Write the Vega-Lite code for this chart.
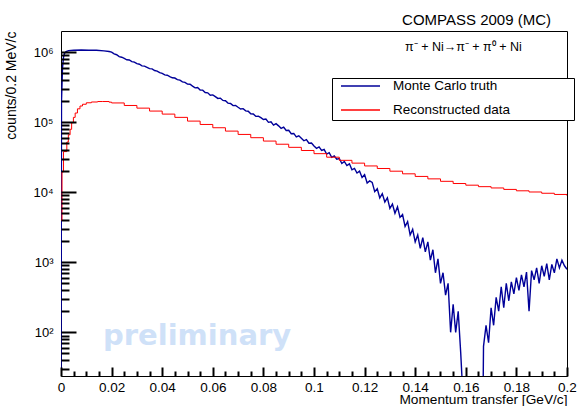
{
  "$schema": "https://vega.github.io/schema/vega-lite/v6.json",
  "width": 506,
  "height": 345,
  "autosize": {"type": "none"},
  "padding": {"left": 61, "top": 31, "right": 10, "bottom": 30},
  "background": "white",
  "title": {"text": "COMPASS 2009 (MC)", "anchor": "end", "frame": "group", "font": "Liberation Sans", "fontSize": 15, "fontWeight": "normal", "color": "black", "baseline": "alphabetic", "offset": 8, "dx": -16, "dy": 17},
  "config": {
    "view": {"stroke": "black", "strokeWidth": 1},
    "font": "Liberation Sans",
    "axis": {"ticks": true, "tickColor": "black", "tickOpacity": 1, "tickWidth": 2}
  },
  "resolve": {"axis": {"x": "independent", "y": "independent"}},
  "datasets": {
    "mc": [
      {"q": 0, "v": 10}, {"q": 0.0002, "v": 200000}, {"q": 0.0006, "v": 600000}, {"q": 0.001, "v": 850000}, {"q": 0.0014, "v": 960000},
      {"q": 0.002, "v": 1020000}, {"q": 0.003, "v": 1050000}, {"q": 0.005, "v": 1060000}, {"q": 0.008, "v": 1070000}, {"q": 0.011, "v": 1060000},
      {"q": 0.014, "v": 1060000}, {"q": 0.017, "v": 1040000}, {"q": 0.019, "v": 1020000},
      {"q": 0.020, "v": 1000000}, {"q": 0.021, "v": 945000}, {"q": 0.022, "v": 917000}, {"q": 0.023, "v": 861000}, {"q": 0.024, "v": 845000},
      {"q": 0.025, "v": 811000}, {"q": 0.026, "v": 777000}, {"q": 0.027, "v": 771000}, {"q": 0.028, "v": 732000}, {"q": 0.029, "v": 720000},
      {"q": 0.030, "v": 683000}, {"q": 0.031, "v": 671000}, {"q": 0.032, "v": 636000}, {"q": 0.033, "v": 631000}, {"q": 0.034, "v": 605000},
      {"q": 0.035, "v": 580000}, {"q": 0.036, "v": 577000}, {"q": 0.037, "v": 546000}, {"q": 0.038, "v": 536000}, {"q": 0.039, "v": 508000},
      {"q": 0.040, "v": 497000}, {"q": 0.041, "v": 472000}, {"q": 0.042, "v": 468000}, {"q": 0.043, "v": 448000}, {"q": 0.044, "v": 430000},
      {"q": 0.045, "v": 426000}, {"q": 0.046, "v": 405000}, {"q": 0.047, "v": 398000}, {"q": 0.048, "v": 376000}, {"q": 0.049, "v": 369000},
      {"q": 0.050, "v": 349000}, {"q": 0.051, "v": 347000}, {"q": 0.052, "v": 327000}, {"q": 0.053, "v": 309000}, {"q": 0.054, "v": 312000},
      {"q": 0.055, "v": 288000}, {"q": 0.056, "v": 286000}, {"q": 0.057, "v": 265000}, {"q": 0.058, "v": 262000}, {"q": 0.059, "v": 242000},
      {"q": 0.060, "v": 245000}, {"q": 0.061, "v": 231000}, {"q": 0.062, "v": 218000}, {"q": 0.063, "v": 220000}, {"q": 0.064, "v": 204000},
      {"q": 0.065, "v": 202000}, {"q": 0.066, "v": 187000}, {"q": 0.067, "v": 185000}, {"q": 0.068, "v": 172000}, {"q": 0.069, "v": 173000},
      {"q": 0.070, "v": 163000}, {"q": 0.071, "v": 154000}, {"q": 0.072, "v": 156000}, {"q": 0.073, "v": 145000}, {"q": 0.074, "v": 143000},
      {"q": 0.075, "v": 132000}, {"q": 0.076, "v": 131000}, {"q": 0.077, "v": 121000}, {"q": 0.078, "v": 122000}, {"q": 0.079, "v": 116000},
      {"q": 0.080, "v": 109000}, {"q": 0.081, "v": 111000}, {"q": 0.082, "v": 99400}, {"q": 0.083, "v": 101000}, {"q": 0.084, "v": 90700},
      {"q": 0.085, "v": 95200}, {"q": 0.086, "v": 88500}, {"q": 0.087, "v": 81700}, {"q": 0.088, "v": 85200}, {"q": 0.089, "v": 76000},
      {"q": 0.090, "v": 76700}, {"q": 0.091, "v": 68300}, {"q": 0.092, "v": 69000}, {"q": 0.093, "v": 61400}, {"q": 0.094, "v": 63900},
      {"q": 0.095, "v": 58900}, {"q": 0.096, "v": 54200}, {"q": 0.097, "v": 56300}, {"q": 0.098, "v": 50100}, {"q": 0.099, "v": 50400},
      {"q": 0.100, "v": 45600}, {"q": 0.101, "v": 42300}, {"q": 0.102, "v": 44300}, {"q": 0.103, "v": 39400}, {"q": 0.104, "v": 40700},
      {"q": 0.105, "v": 35000}, {"q": 0.106, "v": 36600}, {"q": 0.107, "v": 31500}, {"q": 0.108, "v": 32900}, {"q": 0.109, "v": 29600},
      {"q": 0.110, "v": 30300}, {"q": 0.111, "v": 25700}, {"q": 0.112, "v": 27500}, {"q": 0.113, "v": 24000}, {"q": 0.114, "v": 25400},
      {"q": 0.115, "v": 20900}, {"q": 0.116, "v": 21900}, {"q": 0.117, "v": 18800}, {"q": 0.118, "v": 20000}, {"q": 0.119, "v": 16200},
      {"q": 0.120, "v": 17800}, {"q": 0.121, "v": 13500}, {"q": 0.122, "v": 14500}, {"q": 0.123, "v": 13800}, {"q": 0.124, "v": 10200},
      {"q": 0.125, "v": 11200}, {"q": 0.126, "v": 8300}, {"q": 0.127, "v": 9550}, {"q": 0.128, "v": 7240}, {"q": 0.129, "v": 8300},
      {"q": 0.130, "v": 5890}, {"q": 0.131, "v": 6760}, {"q": 0.132, "v": 5010}, {"q": 0.133, "v": 6170}, {"q": 0.134, "v": 4370},
      {"q": 0.135, "v": 4790}, {"q": 0.136, "v": 3240}, {"q": 0.137, "v": 3800}, {"q": 0.138, "v": 2450}, {"q": 0.139, "v": 2950},
      {"q": 0.140, "v": 1950}, {"q": 0.141, "v": 2450}, {"q": 0.142, "v": 1580}, {"q": 0.143, "v": 2240}, {"q": 0.144, "v": 1410},
      {"q": 0.145, "v": 1950}, {"q": 0.146, "v": 1070}, {"q": 0.147, "v": 1510}, {"q": 0.148, "v": 708}, {"q": 0.149, "v": 1120},
      {"q": 0.150, "v": 500}, {"q": 0.151, "v": 708}, {"q": 0.152, "v": 339}, {"q": 0.153, "v": 500}, {"q": 0.154, "v": 100},
      {"q": 0.155, "v": 251}, {"q": 0.156, "v": 100}, {"q": 0.157, "v": 200}, {"q": 0.158, "v": 50}, {"q": 0.159, "v": 10},
      {"q": 0.1668, "v": 10},
      {"q": 0.167, "v": 63}, {"q": 0.168, "v": 126}, {"q": 0.169, "v": 71}, {"q": 0.170, "v": 224}, {"q": 0.171, "v": 126},
      {"q": 0.172, "v": 316}, {"q": 0.173, "v": 200}, {"q": 0.174, "v": 447}, {"q": 0.175, "v": 224}, {"q": 0.176, "v": 501},
      {"q": 0.177, "v": 282}, {"q": 0.178, "v": 525}, {"q": 0.179, "v": 355}, {"q": 0.180, "v": 603}, {"q": 0.181, "v": 398},
      {"q": 0.182, "v": 661}, {"q": 0.183, "v": 447}, {"q": 0.184, "v": 724}, {"q": 0.185, "v": 200}, {"q": 0.186, "v": 759},
      {"q": 0.187, "v": 562}, {"q": 0.188, "v": 832}, {"q": 0.189, "v": 501}, {"q": 0.190, "v": 891}, {"q": 0.191, "v": 631},
      {"q": 0.192, "v": 955}, {"q": 0.193, "v": 562}, {"q": 0.194, "v": 933}, {"q": 0.195, "v": 708}, {"q": 0.196, "v": 1120},
      {"q": 0.197, "v": 832}, {"q": 0.198, "v": 1070}, {"q": 0.199, "v": 891}, {"q": 0.200, "v": 794}
    ],
    "rec": [
      {"q": 0, "v": 4000}, {"q": 0.0004, "v": 19500}, {"q": 0.001, "v": 38000}, {"q": 0.0023, "v": 52000}, {"q": 0.0029, "v": 66000},
      {"q": 0.0036, "v": 79000}, {"q": 0.0042, "v": 98000}, {"q": 0.0049, "v": 117000}, {"q": 0.0056, "v": 135000}, {"q": 0.0065, "v": 155000},
      {"q": 0.0075, "v": 170000}, {"q": 0.0085, "v": 180000}, {"q": 0.010, "v": 189000}, {"q": 0.012, "v": 194000}, {"q": 0.0145, "v": 197000},
      {"q": 0.0165, "v": 197000}, {"q": 0.019, "v": 193000},
      {"q": 0.020, "v": 188000}, {"q": 0.025, "v": 173000}, {"q": 0.030, "v": 158500}, {"q": 0.035, "v": 143900}, {"q": 0.040, "v": 130300},
      {"q": 0.045, "v": 117000}, {"q": 0.050, "v": 103500}, {"q": 0.055, "v": 92700}, {"q": 0.060, "v": 83200}, {"q": 0.065, "v": 74500},
      {"q": 0.070, "v": 66800}, {"q": 0.075, "v": 60000}, {"q": 0.080, "v": 53700}, {"q": 0.085, "v": 48400}, {"q": 0.090, "v": 43700},
      {"q": 0.095, "v": 39400}, {"q": 0.100, "v": 35500}, {"q": 0.105, "v": 31600}, {"q": 0.110, "v": 28500}, {"q": 0.115, "v": 26000},
      {"q": 0.120, "v": 23700}, {"q": 0.125, "v": 21800}, {"q": 0.130, "v": 19950}, {"q": 0.135, "v": 18300}, {"q": 0.140, "v": 16800},
      {"q": 0.145, "v": 15500}, {"q": 0.150, "v": 14300}, {"q": 0.155, "v": 13300}, {"q": 0.160, "v": 12600}, {"q": 0.165, "v": 12000},
      {"q": 0.170, "v": 11500}, {"q": 0.175, "v": 10960}, {"q": 0.180, "v": 10470}, {"q": 0.185, "v": 10070}, {"q": 0.190, "v": 9660},
      {"q": 0.195, "v": 9290}, {"q": 0.200, "v": 8910}
    ],
    "watermark": [{"text": "preliminary", "q": 0.0166, "v": 66}],
    "reaction": [{"text": "π⁻ + Ni→π⁻ + π⁰ + Ni", "q": 0.136, "v": 1200000}]
  },
  "layer": [
    {
      "data": {"name": "watermark"},
      "mark": {"type": "text", "align": "left", "baseline": "alphabetic", "font": "DejaVu Sans", "fontWeight": "bold", "fontSize": 29, "color": "#cfe1f8"},
      "encoding": {
        "x": {"field": "q", "type": "quantitative", "scale": {"domain": [0, 0.2], "nice": false, "zero": false}, "axis": null},
        "y": {"field": "v", "type": "quantitative", "scale": {"type": "log", "domain": [23.8, 2000000], "nice": false}, "axis": null},
        "text": {"field": "text"}
      }
    },
    {
      "data": {"name": "mc"},
      "mark": {"type": "line", "interpolate": "linear", "strokeWidth": 1.4, "clip": true},
      "encoding": {
        "x": {
          "field": "q", "type": "quantitative",
          "scale": {"domain": [0, 0.2], "nice": false, "zero": false},
          "axis": {
            "orient": "bottom",
            "values": [0, 0.02, 0.04, 0.06, 0.08, 0.1, 0.12, 0.14, 0.16, 0.18, 0.2],
            "format": "~g",
            "ticks": true, "offset": -9, "tickSize": 9, "tickColor": "black", "tickWidth": 2, "tickOpacity": 1,
            "domain": false,
            "labelPadding": 4,
            "labelFont": "Liberation Sans", "labelFontSize": 13.5, "labelColor": "black",
            "labelFlush": false, "labelOverlap": false, "labelBound": false,
            "grid": false, "zindex": 1,
            "title": "Momentum transfer [GeV/c]", "titleAnchor": "end", "titleFont": "Liberation Sans", "titleFontSize": 13.7,
            "titleFontWeight": "normal", "titleColor": "black", "titlePadding": -1
          }
        },
        "y": {
          "field": "v", "type": "quantitative",
          "scale": {"type": "log", "domain": [23.8, 2000000], "nice": false},
          "axis": {
            "orient": "left",
            "values": [100, 1000, 10000, 100000, 1000000],
            "labelExpr": "datum.value == 100 ? '10²' : datum.value == 1000 ? '10³' : datum.value == 10000 ? '10⁴' : datum.value == 100000 ? '10⁵' : '10⁶'",
            "ticks": true, "offset": -15, "tickSize": 15, "tickColor": "black", "tickWidth": 2, "tickOpacity": 1,
            "domain": false,
            "labelPadding": 8,
            "labelFont": "Liberation Sans", "labelFontSize": 13, "labelColor": "black",
            "labelFlush": false, "labelOverlap": false, "labelBound": false,
            "grid": false, "zindex": 1,
            "title": "counts/0.2 MeV/c", "titleAnchor": "end", "titleFont": "Liberation Sans", "titleFontSize": 14,
            "titleFontWeight": "normal", "titleColor": "black", "titlePadding": 14
          }
        },
        "color": {
          "datum": "Monte Carlo truth",
          "scale": {"domain": ["Monte Carlo truth", "Reconstructed data"], "range": ["#000099", "#ff0000"]},
          "legend": {
            "title": null, "orient": "none", "legendX": 271, "legendY": 47,
            "fillColor": "white", "strokeColor": "black", "padding": 3,
            "symbolType": "stroke", "symbolSize": 1521, "symbolStrokeWidth": 1.5, "symbolOffset": 5,
            "clipHeight": 10, "rowPadding": 10, "labelOffset": 12, "labelLimit": 400,
            "labelFont": "Liberation Sans", "labelFontSize": 13.5, "labelColor": "black",
            "labelExpr": "datum.label + '\u2800\u2800\u2800\u2800\u2800\u2800'"
          }
        }
      }
    },
    {
      "data": {"name": "rec"},
      "mark": {"type": "line", "interpolate": "step-after", "strokeWidth": 1, "clip": true},
      "encoding": {
        "x": {
          "field": "q", "type": "quantitative",
          "scale": {"domain": [0, 0.2], "nice": false, "zero": false},
          "axis": {
            "orient": "bottom",
            "values": [0.005, 0.01, 0.015, 0.025, 0.03, 0.035, 0.045, 0.05, 0.055, 0.065, 0.07, 0.075, 0.085, 0.09, 0.095, 0.105, 0.11, 0.115, 0.125, 0.13, 0.135, 0.145, 0.15, 0.155, 0.165, 0.17, 0.175, 0.185, 0.19, 0.195],
            "labels": false, "title": null, "domain": false, "grid": false,
            "ticks": true, "offset": -5, "tickSize": 5, "tickColor": "black", "tickWidth": 2, "tickOpacity": 1, "zindex": 1
          }
        },
        "y": {
          "field": "v", "type": "quantitative",
          "scale": {"type": "log", "domain": [23.8, 2000000], "nice": false},
          "axis": {
            "orient": "left",
            "values": [30, 40, 50, 60, 70, 80, 90, 200, 300, 400, 500, 600, 700, 800, 900, 2000, 3000, 4000, 5000, 6000, 7000, 8000, 9000, 20000, 30000, 40000, 50000, 60000, 70000, 80000, 90000, 200000, 300000, 400000, 500000, 600000, 700000, 800000, 900000],
            "labels": false, "title": null, "domain": false, "grid": false,
            "ticks": true, "offset": -8, "tickSize": 8, "tickColor": "black", "tickWidth": 2, "tickOpacity": 1, "zindex": 1
          }
        },
        "color": {"datum": "Reconstructed data"}
      }
    },
    {
      "data": {"name": "reaction"},
      "mark": {"type": "text", "align": "left", "baseline": "middle", "font": "Liberation Sans", "fontSize": 12.5, "color": "black"},
      "encoding": {
        "x": {"field": "q", "type": "quantitative", "scale": {"domain": [0, 0.2], "nice": false, "zero": false}, "axis": null},
        "y": {"field": "v", "type": "quantitative", "scale": {"type": "log", "domain": [23.8, 2000000], "nice": false}, "axis": null},
        "text": {"field": "text"}
      }
    }
  ]
}
